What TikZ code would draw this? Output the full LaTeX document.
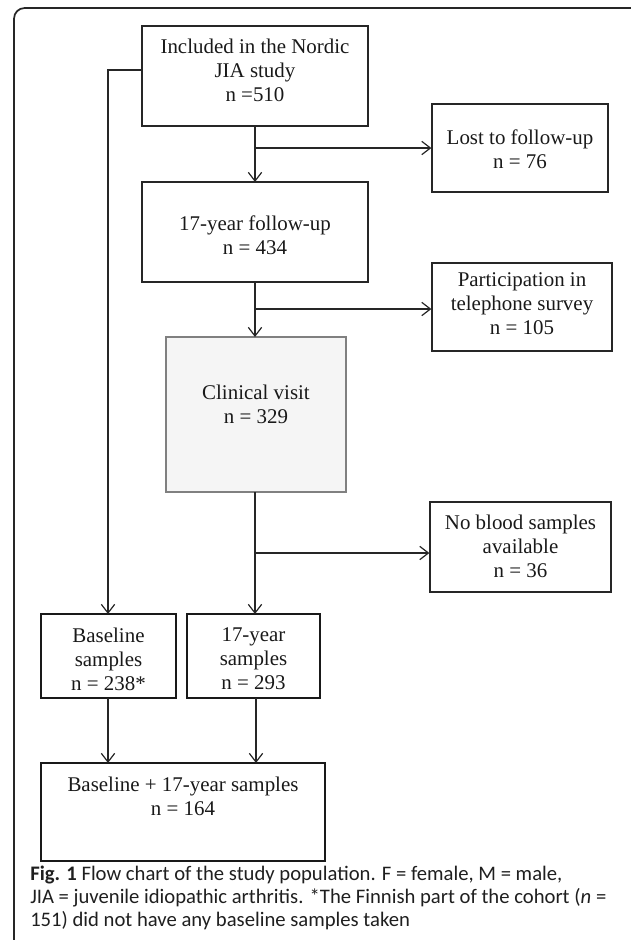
\documentclass[tikz,border=0pt]{standalone}
\usepackage{fontspec}
\setmainfont{Liberation Serif}
\newfontfamily\capfont{Carlito}
\usetikzlibrary{arrows.meta}
\begin{document}
\begin{tikzpicture}[x=0.75pt,y=-0.75pt,
 sz/.style 2 args={minimum width=#1*0.75pt, minimum height=#2*0.75pt},
 box/.style={draw=black!85, line width=0.9pt, rectangle, inner sep=0pt},
 thickbox/.style={draw=black!90, line width=2pt, rectangle, inner sep=0pt},
 greybox/.style={draw=black!50, fill=black!4, line width=0.9pt, rectangle, inner sep=0pt},
 txt/.style={align=center, font=\fontsize{15.7}{18}\selectfont, inner sep=0pt, text=black!90},
 conn/.style={draw=black!85, line width=0.9pt},
 arr/.style={conn, -{Straight Barb[length=6.5pt,width=10pt]}},
 capline/.style={anchor=base west, inner sep=0pt, text=black!88,
      font=\capfont\fontsize{15.5}{17.25}\selectfont},
]
\useasboundingbox (0,0) rectangle (631,940);
% frame
\coordinate (fa) at (631,8);
\coordinate (fb) at (14,8);
\coordinate (fc) at (14,950);
\draw[draw=black!85, line width=1.3pt, rounded corners=8pt] (fa) -- (fb) -- (fc);

% boxes
\node[box, sz={226}{100}] (b1) at (255,76) {};
\node[txt] (b1t) at (255,70) {Included in the Nordic\\JIA study\\n =510};
\node[box, sz={176}{88}] (lost) at (520,148) {};
\node[txt] (lostt) at (520,149.5) {Lost to follow-up\\n = 76};
\node[box, sz={226}{100}] (fu) at (255,232) {};
\node[txt] (fut) at (255,235) {17-year follow-up\\n = 434};
\node[box, sz={180}{88}] (tel) at (522,307) {};
\node[txt] (telt) at (522,304) {Participation in\\telephone survey\\n = 105};
\node[greybox, sz={180}{155}] (clin) at (256,414.5) {};
\node[txt] (clint) at (256,404) {Clinical visit\\n = 329};
\node[box, sz={181}{90}] (nob) at (520.5,547) {};
\node[txt] (nobt) at (520.5,546) {No blood samples\\available\\n = 36};
\node[thickbox, sz={135}{84}] (base) at (108.5,656) {};
\node[txt] (baset) at (108.5,659) {Baseline\\samples\\n = 238*};
\node[thickbox, sz={133}{84}] (s17) at (253.5,656) {};
\node[txt] (s17t) at (253.5,659) {17-year\\samples\\n = 293};
\node[thickbox, sz={284}{98}] (comb) at (183,812) {};
\node[txt] (combt) at (183,796) {Baseline + 17-year samples\\n = 164};

% connectors
\coordinate (j1) at (255,148);
\coordinate (j2) at (255,309);
\coordinate (j3) at (255,553);
\coordinate (lc1) at (108,70);
\draw[arr] (255,126) -- (255,182);
\draw[arr] (j1) -- (lost.west |- j1);
\draw[arr] (255,282) -- (255,337);
\draw[arr] (j2) -- (tel.west |- j2);
\draw[arr] (255,492) -- (255,614);
\draw[arr] (j3) -- (nob.west |- j3);
\draw[arr] (b1.west |- lc1) -- (lc1) -- (108,614);
\draw[arr] (108,698) -- (108,763);
\draw[arr] (256,698) -- (256,763);

% caption
\node[capline] (cap1) at (30,880) {\textbf{Fig. 1} Flow chart of the study population. F = female, M = male,};
\node[capline] (cap2) at (30,903) {JIA = juvenile idiopathic arthritis. *The Finnish part of the cohort (\textit{n} =};
\node[capline] (cap3) at (30,926) {151) did not have any baseline samples taken};
\end{tikzpicture}
\end{document}
